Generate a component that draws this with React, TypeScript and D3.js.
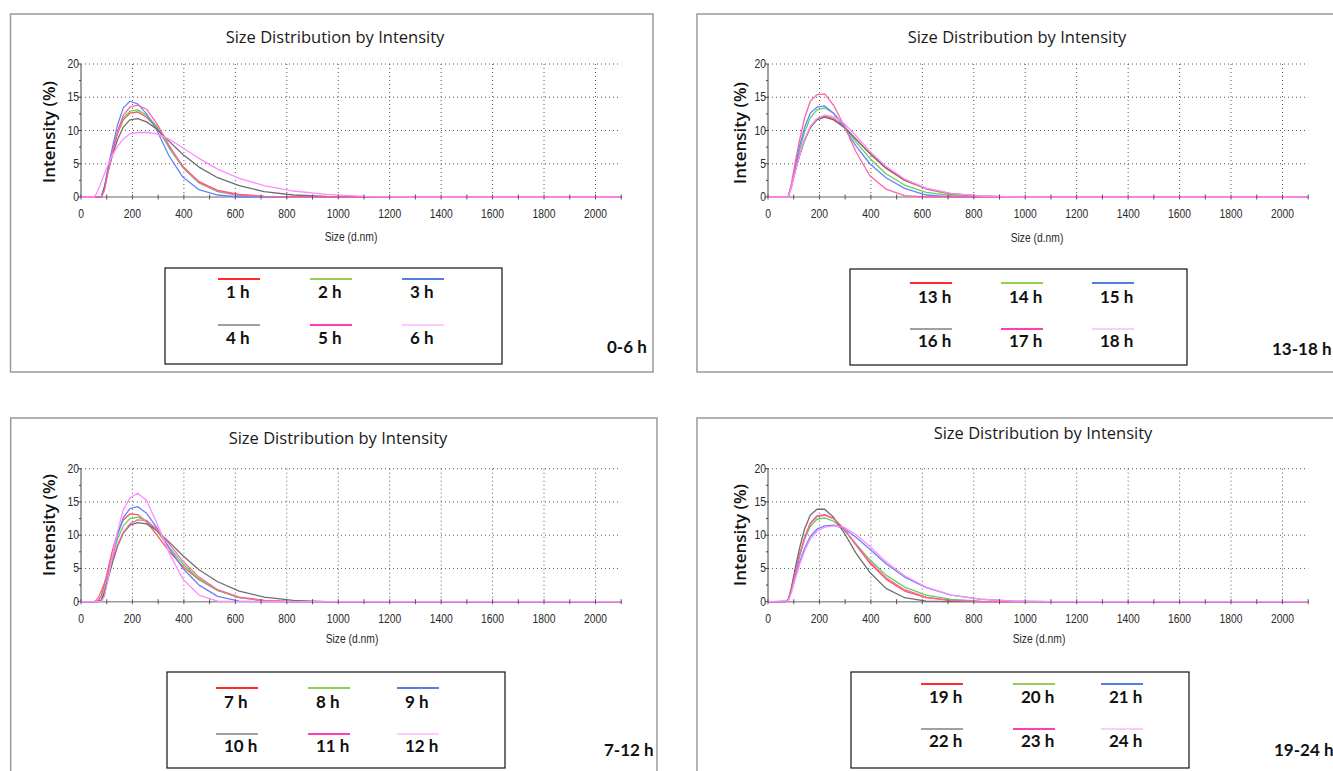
import React from 'react';
import * as d3 from 'd3';

// particle size bins (d.nm)
const SIZES = [0.4, 43.82, 50.75, 58.77, 68.06, 78.82, 91.28, 105.7, 122.4, 141.8, 164.2, 190.1, 220.2, 255.0, 295.3, 342.0, 396.1, 458.7, 531.2, 615.1, 712.4, 825.0, 955.4, 1106, 1281, 1484, 1718, 1990, 2305];

// intensity (%) per hour, one value per size bin
const H1 = [0, 0, 0, 0, 0, 0, 1.5, 4.2, 6.8, 9.5, 11.6, 12.6, 12.8, 12.0, 10.4, 7.6, 4.6, 2.3, 1.0, 0.4, 0.1, 0, 0, 0, 0, 0, 0, 0, 0];
const H2 = [0, 0, 0, 0, 0, 0, 1.5, 4.3, 7.0, 9.8, 11.9, 12.9, 13.1, 12.3, 10.6, 7.4, 4.4, 2.1, 0.8, 0.2, 0, 0, 0, 0, 0, 0, 0, 0, 0];
const H3 = [0, 0, 0, 0, 0, 0, 1.3, 4.5, 7.5, 10.8, 13.4, 14.4, 14.0, 12.5, 10.0, 6.2, 3.0, 1.1, 0.3, 0, 0, 0, 0, 0, 0, 0, 0, 0, 0];
const H4 = [0, 0, 0, 0, 0, 0, 1.5, 3.9, 6.3, 8.6, 10.5, 11.6, 11.8, 11.3, 10.2, 8.4, 6.4, 4.5, 2.9, 1.7, 0.8, 0.3, 0.1, 0, 0, 0, 0, 0, 0];
const H5 = [0, 0, 0, 0, 0, 0, 1.0, 3.8, 6.8, 9.8, 12.3, 13.5, 13.8, 13.2, 11.0, 7.8, 4.5, 2.2, 0.9, 0.3, 0.1, 0, 0, 0, 0, 0, 0, 0, 0];
const H6 = [0, 0, 0, 0.4, 1.2, 2.3, 3.5, 4.9, 6.3, 7.6, 8.7, 9.5, 9.7, 9.7, 9.5, 8.7, 7.4, 5.8, 4.2, 2.8, 1.7, 0.9, 0.4, 0.1, 0, 0, 0, 0, 0];

const H7 = [0, 0, 0, 0, 0.2, 0.9, 2.6, 5.0, 7.7, 10.3, 12.3, 13.2, 13.1, 12.0, 10.0, 7.6, 5.3, 3.3, 1.7, 0.6, 0.15, 0, 0, 0, 0, 0, 0, 0, 0];
const H8 = [0, 0, 0, 0, 0, 0.3, 1.9, 4.3, 6.9, 9.4, 11.4, 12.5, 12.7, 12.2, 10.6, 8.2, 5.7, 3.4, 1.7, 0.6, 0.15, 0, 0, 0, 0, 0, 0, 0, 0];
const H9 = [0, 0, 0, 0, 0, 0.1, 1.3, 3.9, 7.0, 10.0, 12.6, 14.0, 14.3, 13.3, 11.1, 8.1, 5.0, 2.5, 0.8, 0.1, 0, 0, 0, 0, 0, 0, 0, 0, 0];
const H10 = [0, 0, 0, 0, 0, 0.2, 1.3, 3.5, 5.9, 8.3, 10.3, 11.5, 11.9, 11.7, 10.7, 9.0, 6.9, 4.8, 3.0, 1.6, 0.7, 0.2, 0, 0, 0, 0, 0, 0, 0];
const H11 = [0, 0, 0, 0.2, 0.7, 1.6, 2.9, 4.6, 6.5, 8.5, 10.4, 11.7, 12.3, 12.2, 10.9, 8.7, 6.1, 3.7, 1.8, 0.7, 0.2, 0, 0, 0, 0, 0, 0, 0, 0];
const H12 = [0, 0, 0, 0, 0, 0, 0.8, 3.5, 7.0, 10.5, 13.8, 15.6, 16.3, 15.2, 11.8, 7.4, 3.4, 1.0, 0.1, 0, 0, 0, 0, 0, 0, 0, 0, 0, 0];

const H13 = [0, 0, 0, 0, 0, 0.1, 1.6, 3.9, 6.2, 8.5, 10.5, 11.7, 12.2, 11.8, 10.6, 8.7, 6.5, 4.3, 2.5, 1.2, 0.4, 0.1, 0, 0, 0, 0, 0, 0, 0];
const H14 = [0, 0, 0, 0, 0, 0, 1.7, 4.3, 7.0, 9.7, 11.9, 13.1, 13.4, 12.6, 10.8, 8.3, 5.8, 3.5, 1.8, 0.7, 0.2, 0, 0, 0, 0, 0, 0, 0, 0];
const H15 = [0, 0, 0, 0, 0, 0, 1.8, 4.6, 7.6, 10.4, 12.6, 13.5, 13.7, 12.6, 10.5, 7.7, 5.0, 2.9, 1.3, 0.3, 0, 0, 0, 0, 0, 0, 0, 0, 0];
const H16 = [0, 0, 0, 0, 0, 0, 1.6, 3.9, 6.2, 8.5, 10.4, 11.6, 12.0, 11.6, 10.5, 8.7, 6.6, 4.4, 2.6, 1.3, 0.5, 0.15, 0, 0, 0, 0, 0, 0, 0];
const H17 = [0, 0, 0, 0, 0, 0, 2.0, 5.2, 8.5, 11.8, 14.4, 15.4, 15.5, 13.8, 10.8, 6.8, 3.2, 1.2, 0.2, 0, 0, 0, 0, 0, 0, 0, 0, 0, 0];
const H18 = [0, 0, 0, 0, 0, 0, 1.5, 3.8, 6.2, 8.6, 10.6, 11.8, 12.3, 12.1, 11.1, 9.2, 6.9, 4.6, 2.7, 1.3, 0.5, 0.15, 0, 0, 0, 0, 0, 0, 0];

const H19 = [0, 0, 0, 0, 0, 0.2, 1.8, 4.3, 7.0, 9.6, 11.8, 12.9, 13.1, 12.5, 10.9, 8.5, 5.8, 3.4, 1.6, 0.6, 0.15, 0, 0, 0, 0, 0, 0, 0, 0];
const H20 = [0, 0, 0, 0, 0, 0.2, 1.8, 4.2, 6.8, 9.3, 11.3, 12.4, 12.6, 12.1, 10.8, 8.7, 6.3, 4.0, 2.2, 1.0, 0.35, 0.1, 0, 0, 0, 0, 0, 0, 0];
const H21 = [0, 0, 0.1, 0.1, 0.1, 0.3, 1.6, 3.7, 5.9, 8.0, 9.8, 10.9, 11.4, 11.5, 11.0, 9.7, 7.9, 5.7, 3.7, 2.1, 1.0, 0.4, 0.1, 0, 0, 0, 0, 0, 0];
const H22 = [0, 0, 0, 0, 0, 0.3, 2.2, 5.0, 8.0, 10.9, 13.0, 13.9, 13.9, 12.7, 10.4, 7.3, 4.4, 2.0, 0.6, 0.1, 0, 0, 0, 0, 0, 0, 0, 0, 0];
const H23 = [0, 0, 0, 0, 0, 0.2, 1.7, 4.2, 6.9, 9.5, 11.7, 12.8, 13.0, 12.5, 11.0, 8.6, 6.0, 3.6, 1.8, 0.7, 0.2, 0, 0, 0, 0, 0, 0, 0, 0];
const H24 = [0, 0.1, 0.1, 0.1, 0.1, 0.2, 1.4, 3.4, 5.5, 7.6, 9.4, 10.6, 11.2, 11.4, 11.2, 10.1, 8.3, 6.0, 3.9, 2.2, 1.0, 0.4, 0.1, 0, 0, 0, 0, 0, 0];

const LABELS_A = ['1 h', '2 h', '3 h', '4 h', '5 h', '6 h'];
const LABELS_B = ['13 h', '14 h', '15 h', '16 h', '17 h', '18 h'];
const LABELS_C = ['7 h', '8 h', '9 h', '10 h', '11 h', '12 h'];
const LABELS_D = ['19 h', '20 h', '21 h', '22 h', '23 h', '24 h'];

const X_TICKS = [0, 200, 400, 600, 800, 1000, 1200, 1400, 1600, 1800, 2000];
const Y_TICKS = [0, 5, 10, 15, 20];

const TITLE = 'Size Distribution by Intensity';

const LINE_COLORS = ['#ff5252', '#55d655', '#6b80ff', '#6e6e6e', '#ff62aa', '#ff8cff'];
const KEY_COLORS = ['#ff2a2a', '#92d050', '#4f7fe0', '#a0a0a0', '#ff3eb5', '#ffcaff'];

const TICK_FONT = '"Liberation Sans Narrow", "Arial Narrow", "Liberation Sans", sans-serif';
const UI_FONT = '"Open Sans", "Noto Sans", sans-serif';
const KEY_FONT = 'Lato, "Open Sans", sans-serif';

const panels = [
  {
    id: 'a', ox: 0, oy: 0, series: [H1, H2, H3, H4, H5, H6], labels: LABELS_A, tag: '0-6 h',
    border: [10.5, 14, 653, 372], title: [335, 42.5], ylab: [48, 132], xlab: [351, 241],
    box: [165, 268, 502, 364], cols: [218, 310, 402], rows: [279, 325], texts: [298, 344], tagPos: [607, 353],
  },
  {
    id: 'b', ox: 687, oy: 0, series: [H13, H14, H15, H16, H17, H18], labels: LABELS_B, tag: '13-18 h',
    border: [697, 14, 1345, 372], title: [1017, 42.5], ylab: [739, 133], xlab: [1037, 242],
    box: [850, 269, 1187, 365], cols: [910, 1001, 1092], rows: [283, 329], texts: [303, 347], tagPos: [1272, 355],
  },
  {
    id: 'c', ox: 0, oy: 404.7, series: [H7, H8, H9, H10, H11, H12], labels: LABELS_C, tag: '7-12 h',
    border: [10.7, 418, 657, 800], title: [338, 443.5], ylab: [48, 525], xlab: [352, 643],
    box: [167, 672, 505, 768], cols: [216, 308, 397], rows: [688, 734], texts: [708, 752], tagPos: [604, 756],
  },
  {
    id: 'd', ox: 687, oy: 404.7, series: [H19, H20, H21, H22, H23, H24], labels: LABELS_D, tag: '19-24 h',
    border: [697, 418, 1345, 800], title: [1043, 438.5], ylab: [739, 535], xlab: [1039, 643],
    box: [851, 672, 1189, 768], cols: [921, 1013, 1101], rows: [684, 729], texts: [703, 747], tagPos: [1274, 756],
  },
];

// condensed small text, like the instrument software's narrow font
function Narrow({ x, y, anchor, children }: { x: number; y: number; anchor: string; children: any }) {
  return (
    <text transform={`translate(${x},${y}) scale(0.86,1)`} textAnchor={anchor} fontFamily={TICK_FONT} fontSize={12} fill="#2a2a2a">
      {children}
    </text>
  );
}

function Panel({ p }: { p: any }) {
  const x = d3.scaleLinear().domain([0, 2100]).range([p.ox + 81, p.ox + 621.2]);
  const y = d3.scaleLinear().domain([0, 20]).range([p.oy + 197, p.oy + 64]);
  const line = d3.line<number>().x((d, i) => x(SIZES[i])).y((d) => y(d));
  const [bx0, by0, bx1, by1] = p.border;
  const [lx0, ly0, lx1, ly1] = p.box;
  const minorX = d3.range(0, 2101, 100);
  const minorY = d3.range(0, 20.1, 2.5);

  return (
    <g>
      <defs>
        <clipPath id={'clip-' + p.id}>
          <rect x={x(0)} y={y(20) - 5} width={x(2100) - x(0)} height={y(0) - y(20) + 10} />
        </clipPath>
      </defs>
      <rect x={bx0} y={by0} width={bx1 - bx0} height={by1 - by0} fill="#fff" stroke="#9a9a9a" strokeWidth={1.5} />
      <text x={p.title[0]} y={p.title[1]} textAnchor="middle" fontFamily={UI_FONT} fontSize={16.5} fill="#1a1a1a">{TITLE}</text>

      {/* grid */}
      {Y_TICKS.filter((t) => t > 0).map((t) => (
        <line key={'gy' + t} x1={x(0)} x2={x(2100)} y1={y(t)} y2={y(t)} stroke="#555" strokeWidth={1} strokeDasharray="1,3" />
      ))}
      {X_TICKS.filter((t) => t > 0).map((t) => (
        <line key={'gx' + t} x1={x(t)} x2={x(t)} y1={y(0)} y2={y(20)} stroke="#555" strokeWidth={1} strokeDasharray="1,3" />
      ))}

      {/* axes */}
      <line x1={x(0)} x2={x(0)} y1={y(0)} y2={y(20)} stroke="#444" strokeWidth={1} />
      {minorY.map((t) => (
        <line key={'my' + t} x1={x(0) - (t % 5 === 0 ? 3 : 2)} x2={x(0)} y1={y(t)} y2={y(t)} stroke="#444" strokeWidth={1} />
      ))}
      <line x1={x(0)} x2={x(2100)} y1={y(0)} y2={y(0)} stroke="#9a9a9a" strokeWidth={1.6} />

      <g clipPath={`url(#clip-${p.id})`}>
        {p.series.map((s: number[], i: number) => (
          <path key={i} d={line(s) || ''} fill="none" stroke={LINE_COLORS[i]} strokeWidth={1.3} strokeLinejoin="round" />
        ))}
      </g>
      {minorX.map((t) => (
        <line key={'mx' + t} x1={x(t)} x2={x(t)} y1={y(0) - 2.5} y2={y(0) + 2.5} stroke="#555" strokeWidth={1} />
      ))}

      {X_TICKS.map((t) => (
        <Narrow key={'tx' + t} x={x(t)} y={y(0) + 21} anchor="middle">{t}</Narrow>
      ))}
      {Y_TICKS.map((t) => (
        <Narrow key={'ty' + t} x={x(0) - 2} y={y(t) + 4} anchor="end">{t}</Narrow>
      ))}
      <Narrow x={p.xlab[0]} y={p.xlab[1]} anchor="middle">Size (d.nm)</Narrow>
      <text transform={`translate(${p.ylab[0]},${p.ylab[1]}) rotate(-90)`} textAnchor="middle" dominantBaseline="central"
        fontFamily={UI_FONT} fontSize={17} fontWeight={600} fill="#111">Intensity (%)</text>

      {/* legend */}
      <rect x={lx0} y={ly0} width={lx1 - lx0} height={ly1 - ly0} fill="#fff" stroke="#111" strokeWidth={1.2} />
      {p.labels.map((lab: string, i: number) => {
        const c = i % 3;
        const r = Math.floor(i / 3);
        return (
          <g key={lab}>
            <line x1={p.cols[c]} x2={p.cols[c] + 42} y1={p.rows[r]} y2={p.rows[r]} stroke={KEY_COLORS[i]} strokeWidth={2} />
            <text x={p.cols[c] + 8} y={p.texts[r]} fontFamily={KEY_FONT} fontWeight={700} fontSize={17} fill="#111">{lab}</text>
          </g>
        );
      })}
      <text x={p.tagPos[0]} y={p.tagPos[1]} fontFamily={KEY_FONT} fontWeight={700} fontSize={17} fill="#111">{p.tag}</text>
    </g>
  );
}

export default function App() {
  return (
    <svg width={1333} height={771} style={{ position: 'absolute', left: 0, top: 0, background: '#fff' }}>
      <rect x={0} y={0} width={1333} height={771} fill="#fff" />
      {panels.map((p) => (
        <Panel key={p.id} p={p} />
      ))}
    </svg>
  );
}
